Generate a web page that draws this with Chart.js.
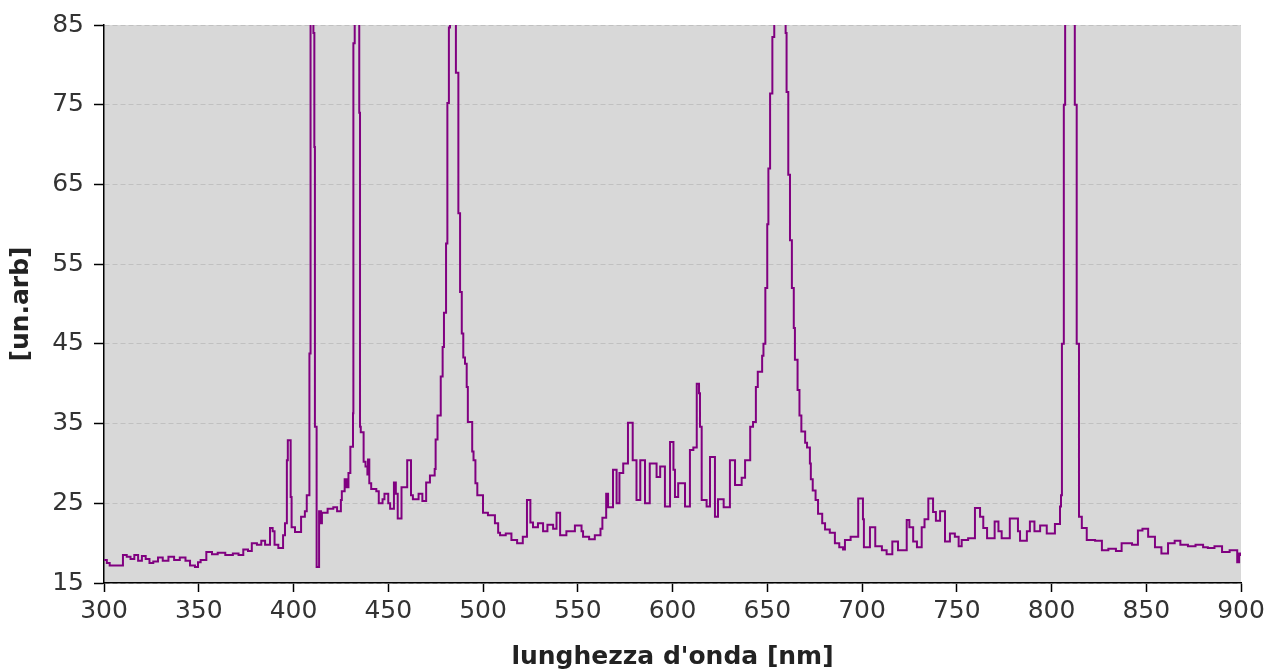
<!DOCTYPE html>
<html><head><meta charset="utf-8">
<script src="https://cdn.jsdelivr.net/npm/chart.js@4/dist/chart.umd.min.js"></script>
<style>html,body{margin:0;padding:0;background:#fff;overflow:hidden}</style>
</head><body>
<canvas id="c" width="1270" height="672"></canvas>
<script>
// wavelength [nm]
const wavelengths = [
300,301.5,303,308.5,310,312,314,316,318,320,322,324,326,328.5,331,334,337,340,343,345.4,348,349.6,351,354,357,360,364,368,371,373.5,376,378,380.7,383,385,387.6,389,390,392,394.5,395.5,396.5,397,398.5,399,400.8,404,406,407,408.4,409,410.5,411,411.3,412.2,413.5,414.5,415,418,421,423,425,425.5,427,428,429,430,431.4,431.6,432.3,434.7,435.1,435.5,437,438,439,439.3,440,441,443.7,445,447,448,450,451,453,454,455,457,460,462,463,466,468,470,472,474.5,475,476,477.7,478.7,479.4,480.5,481.2,482,482.6,485.7,487,487.9,488.8,489.6,490.5,491.4,492,494.3,495,496,497,500,502.6,506.3,508,509,512,515,518,521,523.2,525,526.4,529,531.7,534,537,538.8,540.7,544,548.5,552,552.8,556,559,562,563,565,566,568.6,570.5,572,574,576.5,579,581,583,585.5,588,591.6,593.5,596,598.7,600.5,601.3,603,606.6,609.2,611,612.8,614,614.5,615.4,618,619.8,622.4,624,627,630.3,633,636.5,638.3,641,642.5,644,645,647.3,648,649,650,650.6,651.5,652.7,653.7,659.7,660.2,661.1,662,663,664,664.6,666,667,668,670,671,672.5,673,674,675.5,676.8,679,680.5,683,685.7,688,690,691,694,698,700.5,701,704.2,707,710.5,713,716,719,723.6,725,727,729,731.5,733,735,737.5,739,741.2,743.8,746.4,749,751,752.6,756,759.6,762.3,764,766,770,772,773.7,778,782.3,783.4,787,788.6,791,794,797.5,801.8,804.5,805,805.5,806.5,807.2,812.3,813.3,814.5,816,818.6,823,826.6,830,834,837,842.5,845.6,848,851,854.6,858,861.5,865,868,872,876,880,882.5,886,890,894,898,899,900
];
// intensity [un.arb]
const intensity = [
17.9,17.5,17.2,17.2,18.5,18.3,18.0,18.5,17.8,18.4,18.0,17.5,17.7,18.2,17.8,18.3,17.9,18.2,17.8,17.2,17.0,17.6,17.9,18.9,18.6,18.8,18.5,18.7,18.5,19.2,19.0,20.0,19.8,20.3,19.8,21.9,21.5,19.8,19.4,21.0,22.5,30.4,32.9,25.8,22.0,21.4,23.3,24.0,26.0,43.8,100,84,69.7,34.6,17.0,24.0,22.5,23.8,24.3,24.5,24.0,25.4,26.5,28.0,27.0,28.8,32.1,36.3,82.7,100,74,34.6,33.9,30.2,29.6,28.6,30.5,27.5,26.8,26.5,25.0,25.5,26.2,25.0,24.3,27.6,26.2,23.1,27.0,30.4,26.0,25.5,26.2,25.3,27.6,28.5,29.3,33,36,40.9,44.6,48.9,57.6,75.2,84.7,100,79,61.4,51.5,46.3,43.3,42.5,39.6,35.2,31.5,30.4,27.5,26,23.8,23.5,22.5,21.3,21,21.2,20.4,20.0,20.8,25.4,22.6,22.0,22.5,21.5,22.3,21.8,23.8,21.0,21.5,22.2,21.5,20.8,20.5,21.0,21.8,23.2,26.2,24.5,29.2,25,28.8,30,35.1,30.4,25.4,30.4,25,30,28.3,29.6,24.6,32.7,29.2,25.8,27.5,24.6,31.7,32,40,38.8,34.6,25.4,24.6,30.8,23.3,25.5,24.5,30.4,27.3,28.2,30.4,34.6,35.2,39.6,41.5,43.5,45,52,60,67,76.4,83.5,100,84,76.6,66.2,58,52,47,43,39.2,36,34,32.6,32,30,28,26.6,25.4,23.7,22.5,21.7,21.3,20.0,19.5,19.2,20.4,20.8,25.6,23,19.5,22,19.6,19.1,18.6,20.2,19.1,22.9,22,20.2,19.5,22,23,25.6,23.9,22.8,24,20.2,21.2,20.8,19.6,20.4,20.6,24.4,23.3,21.9,20.6,22.7,21.5,20.6,23.1,21.5,20.3,21.5,22.7,21.5,22.2,21.2,22.4,24.6,26,45,75,100,75,45,23.3,21.9,20.4,20.3,19.1,19.3,19.0,20.0,19.8,21.6,21.8,20.8,19.5,18.7,20.0,20.3,19.8,19.6,19.8,19.5,19.4,19.6,18.9,19.1,17.6,18.7,18.4
];
const xTickValues = [300,350,400,450,500,550,600,650,700,750,800,850,900];
const yTickValues = [15,25,35,45,55,65,75,85];
const xTitle = "lunghezza d'onda [nm]";
const yTitle = "[un.arb]";

const points = wavelengths.map((w,i)=>({x:w,y:intensity[i]}));

const bgPlugin = {
  id:'bg',
  beforeDraw(chart){
    const a=chart.chartArea, ctx=chart.ctx;
    ctx.save(); ctx.fillStyle='#d8d8d8';
    ctx.fillRect(a.left,a.top,a.right-a.left,a.bottom-a.top); ctx.restore();
  }
};

const font = {family:'DejaVu Sans', size:25};
new Chart(document.getElementById('c'),{
  type:'line',
  data:{datasets:[{data:points,borderColor:'#800080',borderWidth:2,pointRadius:0,stepped:true,fill:false,tension:0}]},
  options:{
    responsive:false,animation:false,
    layout:{padding:{top:25,right:29,left:0,bottom:0}},
    plugins:{legend:{display:false},tooltip:{enabled:false}},
    scales:{
      x:{type:'linear',min:300,max:900,
        afterBuildTicks(s){s.ticks=xTickValues.map(v=>({value:v}));},
        afterFit(s){s.height=89;},
        ticks:{font,color:'#333',padding:4,maxRotation:0},
        grid:{display:true,drawOnChartArea:false,tickLength:9,tickColor:'#000',tickWidth:1.5},
        border:{color:'#000',width:1.5},
        title:{display:true,text:xTitle,font:{family:'DejaVu Sans',size:25,weight:'bold'},color:'#222',padding:{top:0,bottom:0}}
      },
      y:{type:'linear',min:15,max:85,
        afterBuildTicks(s){s.ticks=yTickValues.map(v=>({value:v}));},
        afterFit(s){s.width=104;},
        ticks:{font,color:'#333',padding:10},
        grid:{color:'#c0c0c0',lineWidth:1,tickLength:10,tickColor:'#000',tickWidth:1.5,tickBorderDash:[]},
        border:{color:'#000',width:1.5,dash:[5,3]},
        title:{display:true,text:yTitle,font:{family:'DejaVu Sans',size:25,weight:'bold'},color:'#222',padding:{top:6,bottom:0}}
      }
    }
  },
  plugins:[bgPlugin]
});
</script>
</body></html>
